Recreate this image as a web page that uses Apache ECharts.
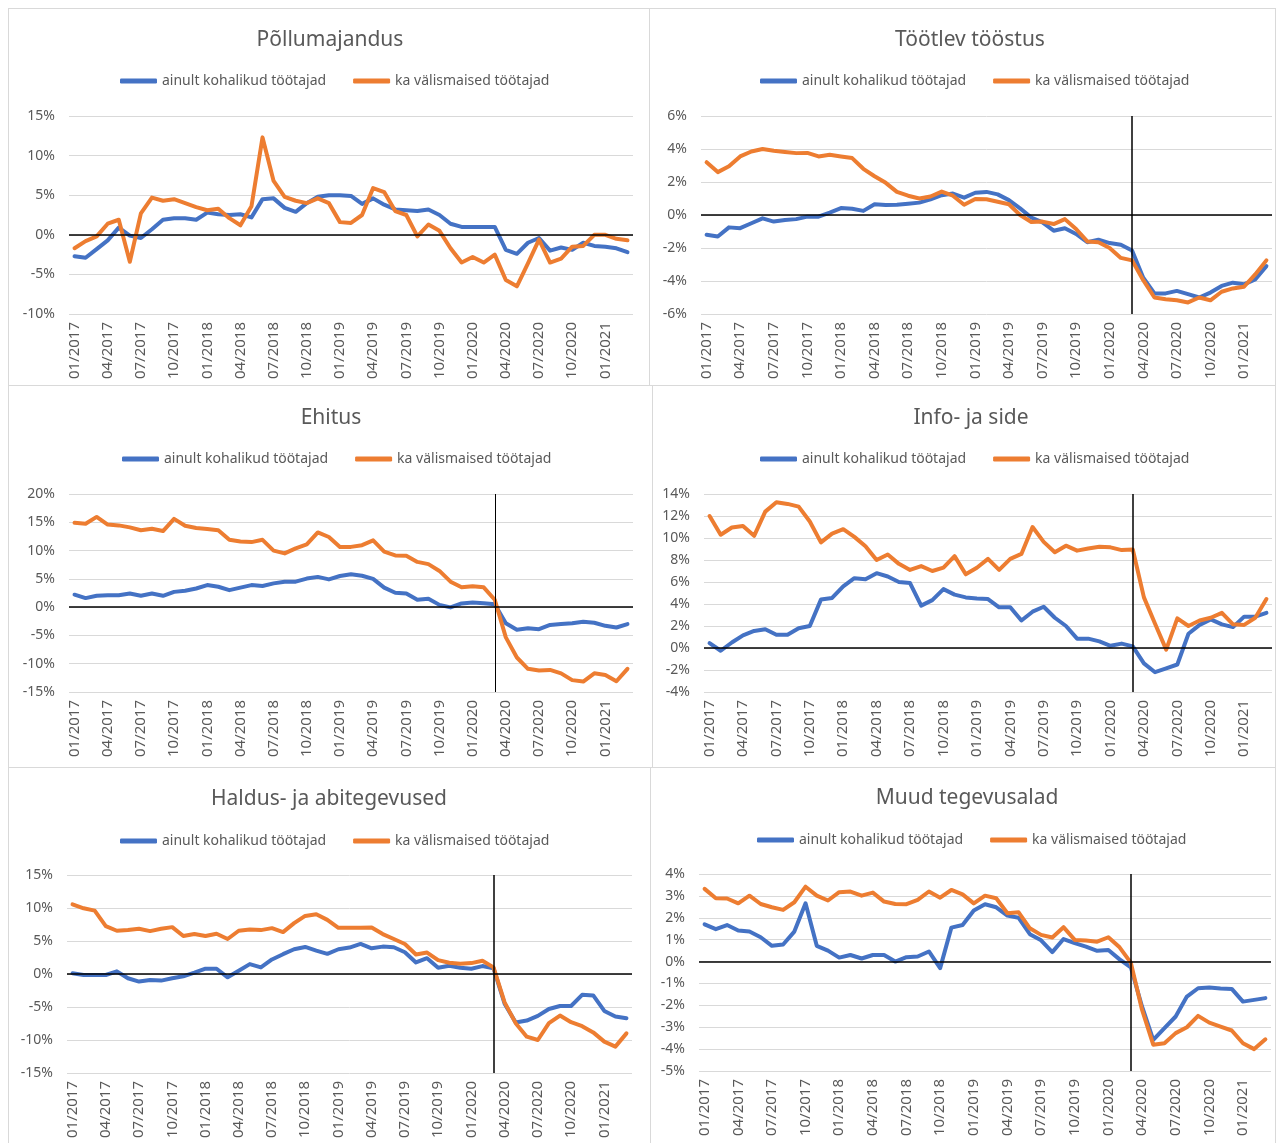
<!DOCTYPE html>
<html><head><meta charset="utf-8">
<script src="https://cdn.jsdelivr.net/npm/echarts@6/dist/echarts.min.js"></script>
<style>
html,body{margin:0;padding:0;background:#fff;width:1276px;height:1143px;overflow:hidden;position:relative;}
.p{position:absolute;box-sizing:border-box;border:1px solid #d9d9d9;background:#fff;}
.c{position:absolute;left:0;top:0;right:0;bottom:0;}
</style></head><body>
<div class="p" style="left:8px;top:8px;width:642px;height:378px"><div class="c" id="c1"></div></div>
<div class="p" style="left:649px;top:8px;width:627px;height:378px"><div class="c" id="c2"></div></div>
<div class="p" style="left:8px;top:385px;width:645px;height:383px"><div class="c" id="c3"></div></div>
<div class="p" style="left:652px;top:385px;width:624px;height:383px"><div class="c" id="c4"></div></div>
<div class="p" style="left:8px;top:767px;width:643px;height:378px"><div class="c" id="c5"></div></div>
<div class="p" style="left:650px;top:767px;width:626px;height:378px"><div class="c" id="c6"></div></div>
<script>
const months = ['01/2017','02/2017','03/2017','04/2017','05/2017','06/2017','07/2017','08/2017','09/2017','10/2017','11/2017','12/2017',
'01/2018','02/2018','03/2018','04/2018','05/2018','06/2018','07/2018','08/2018','09/2018','10/2018','11/2018','12/2018',
'01/2019','02/2019','03/2019','04/2019','05/2019','06/2019','07/2019','08/2019','09/2019','10/2019','11/2019','12/2019',
'01/2020','02/2020','03/2020','04/2020','05/2020','06/2020','07/2020','08/2020','09/2020','10/2020','11/2020','12/2020',
'01/2021','02/2021','03/2021'];
const seriesNames = ['ainult kohalikud töötajad','ka välismaised töötajad'];
const panelTitles = ['Põllumajandus','Töötlev tööstus','Ehitus','Info- ja side','Haldus- ja abitegevused','Muud tegevusalad'];
const markerMonth = '03/2020';

const polluKohalik = [-2.7,-2.9,-1.8,-0.7,0.9,-0.1,-0.4,0.7,1.9,2.1,2.1,1.9,2.8,2.6,2.5,2.6,2.2,4.5,4.6,3.4,2.9,4.0,4.8,5.0,5.0,4.9,3.9,4.6,3.8,3.2,3.1,3.0,3.2,2.5,1.4,1.0,1.0,1.0,1.0,-1.9,-2.4,-1.0,-0.4,-2.0,-1.6,-1.9,-1.0,-1.4,-1.5,-1.7,-2.2];
const polluValis = [-1.7,-0.8,-0.2,1.4,1.9,-3.4,2.7,4.7,4.3,4.5,4.0,3.5,3.1,3.3,2.1,1.2,3.6,12.3,6.8,4.8,4.3,4.0,4.6,4.0,1.6,1.5,2.5,5.9,5.4,3.0,2.5,-0.2,1.3,0.5,-1.7,-3.5,-2.8,-3.5,-2.5,-5.7,-6.5,-3.6,-0.6,-3.5,-3.0,-1.5,-1.4,0.0,0.0,-0.5,-0.7];
const tootlevKohalik = [-1.2,-1.3,-0.75,-0.8,-0.5,-0.2,-0.4,-0.3,-0.25,-0.1,-0.1,0.15,0.42,0.38,0.25,0.65,0.6,0.62,0.68,0.75,0.95,1.2,1.3,1.05,1.35,1.4,1.25,0.9,0.4,-0.15,-0.45,-0.95,-0.8,-1.15,-1.65,-1.5,-1.7,-1.8,-2.15,-3.8,-4.75,-4.75,-4.6,-4.8,-5.0,-4.7,-4.3,-4.1,-4.2,-3.9,-3.1];
const tootlevValis = [3.2,2.6,2.95,3.55,3.85,4.0,3.9,3.82,3.75,3.76,3.55,3.65,3.55,3.45,2.8,2.35,1.95,1.4,1.17,1.0,1.12,1.42,1.17,0.62,0.97,0.95,0.8,0.65,0.0,-0.42,-0.4,-0.55,-0.25,-0.85,-1.6,-1.65,-2.0,-2.6,-2.75,-3.95,-5.0,-5.1,-5.17,-5.3,-5.0,-5.17,-4.65,-4.45,-4.35,-3.6,-2.75];
const ehitusKohalik = [2.2,1.6,2.0,2.1,2.1,2.4,2.0,2.4,2.0,2.7,2.9,3.3,3.9,3.6,3.0,3.45,3.9,3.75,4.2,4.5,4.5,5.05,5.35,4.9,5.5,5.8,5.55,5.0,3.45,2.55,2.4,1.3,1.5,0.4,-0.05,0.65,0.8,0.7,0.5,-2.85,-4.0,-3.75,-3.9,-3.15,-3.0,-2.85,-2.6,-2.75,-3.3,-3.6,-3.0];
const ehitusValis = [14.9,14.75,15.95,14.6,14.45,14.1,13.6,13.85,13.45,15.6,14.4,14.0,13.8,13.6,11.9,11.6,11.5,11.9,10.0,9.5,10.4,11.1,13.2,12.4,10.65,10.65,10.95,11.8,9.8,9.15,9.1,8.0,7.6,6.4,4.5,3.5,3.7,3.5,1.3,-5.35,-8.9,-10.9,-11.2,-11.1,-11.7,-12.9,-13.15,-11.7,-12.0,-13.1,-10.9];
const infoKohalik = [0.45,-0.25,0.5,1.15,1.55,1.7,1.2,1.2,1.8,2.0,4.4,4.55,5.6,6.35,6.25,6.8,6.5,6.0,5.9,3.85,4.35,5.35,4.85,4.6,4.5,4.45,3.7,3.7,2.5,3.3,3.75,2.75,2.0,0.85,0.85,0.6,0.2,0.4,0.15,-1.4,-2.2,-1.85,-1.5,1.3,2.1,2.6,2.15,1.9,2.85,2.85,3.2];
const infoValis = [12.0,10.3,10.95,11.1,10.2,12.4,13.25,13.1,12.85,11.5,9.6,10.4,10.8,10.1,9.25,8.0,8.5,7.65,7.1,7.45,7.0,7.3,8.35,6.7,7.3,8.1,7.1,8.1,8.55,11.0,9.65,8.7,9.3,8.85,9.05,9.2,9.15,8.9,8.95,4.6,2.2,-0.15,2.7,2.0,2.5,2.75,3.2,2.15,2.1,2.75,4.45];
const haldusKohalik = [0.1,-0.15,-0.15,-0.15,0.4,-0.65,-1.15,-0.9,-1.0,-0.65,-0.35,0.2,0.8,0.8,-0.5,0.5,1.5,1.0,2.2,3.0,3.75,4.1,3.55,3.05,3.75,4.0,4.55,3.9,4.15,4.05,3.3,1.75,2.4,0.95,1.25,0.95,0.8,1.2,0.85,-4.5,-7.35,-7.05,-6.35,-5.3,-4.85,-4.85,-3.15,-3.25,-5.6,-6.45,-6.7];
const haldusValis = [10.55,9.95,9.6,7.25,6.55,6.65,6.85,6.5,6.85,7.1,5.75,6.05,5.75,6.1,5.3,6.55,6.75,6.65,6.95,6.35,7.7,8.8,9.05,8.2,7.0,7.0,7.0,7.05,6.05,5.3,4.55,2.95,3.25,2.1,1.7,1.55,1.65,2.0,1.0,-4.3,-7.45,-9.5,-10.0,-7.45,-6.3,-7.3,-7.9,-8.85,-10.25,-11.0,-9.0];
const muudKohalik = [1.7,1.48,1.67,1.42,1.37,1.11,0.72,0.78,1.37,2.66,0.72,0.5,0.18,0.3,0.14,0.3,0.3,0.0,0.2,0.23,0.46,-0.3,1.55,1.67,2.33,2.62,2.48,2.1,2.0,1.25,0.97,0.43,1.03,0.84,0.68,0.49,0.53,0.1,-0.26,-2.05,-3.58,-3.04,-2.51,-1.6,-1.22,-1.19,-1.23,-1.25,-1.83,-1.75,-1.67];
const muudValis = [3.32,2.89,2.88,2.66,3.01,2.63,2.48,2.36,2.71,3.42,3.01,2.79,3.17,3.2,3.01,3.15,2.74,2.63,2.62,2.82,3.2,2.92,3.27,3.07,2.66,3.01,2.89,2.21,2.25,1.52,1.22,1.1,1.57,0.99,0.96,0.91,1.11,0.65,-0.05,-2.2,-3.8,-3.73,-3.27,-3.0,-2.48,-2.79,-2.97,-3.15,-3.73,-4.0,-3.55];

const yMins = [-10,-6,-15,-4,-15,-5];
const yMaxs = [15,6,20,14,15,4];
const yIntervals = [5,2,5,2,5,1];

const FONT = 'Noto Sans';
const GRAY = '#595959';
const BLUE = '#4472C4';
const ORANGE = '#ED7D31';

// layout (pixels inside each panel)
const layouts = [
  {grid:{left:60,right:16,top:107,bottom:71}, tx:321, ty:31, lx:111, ly:74, vline:false, vw:1.5},
  {grid:{left:51,right:3,top:107,bottom:71},  tx:320, ty:31, lx:110, ly:74, vline:true, vw:1.5},
  {grid:{left:60,right:19,top:108,bottom:75}, tx:322, ty:32, lx:113, ly:75, vline:true, vw:1},
  {grid:{left:51,right:3,top:108,bottom:75},  tx:318, ty:32, lx:107, ly:75, vline:true, vw:1.5},
  {grid:{left:58,right:18,top:107,bottom:71}, tx:320, ty:31, lx:111, ly:75, vline:true, vw:1.5},
  {grid:{left:48,right:4,top:106,bottom:73},  tx:316, ty:30, lx:106, ly:74, vline:true, vw:1.5}
];
const dataSets = [
  [polluKohalik, polluValis],
  [tootlevKohalik, tootlevValis],
  [ehitusKohalik, ehitusValis],
  [infoKohalik, infoValis],
  [haldusKohalik, haldusValis],
  [muudKohalik, muudValis]
];

function makeOption(i) {
  const L = layouts[i];
  const mlData = [{yAxis: 0, lineStyle:{color:'#000', width:1.5, type:'solid'}}];
  if (L.vline) mlData.push({xAxis: markerMonth, lineStyle:{color:'#000', width:L.vw, type:'solid'}});
  return {
    animation: false,
    textStyle: {fontFamily: FONT},
    graphic: [{
      type: 'text', x: L.tx, y: L.ty, silent: true,
      style: {text: panelTitles[i], fontSize: 21, fontFamily: FONT, fill: GRAY,
              align: 'center', verticalAlign: 'middle', textAlign: 'center', textVerticalAlign: 'middle'}
    }],
    legend: {
      data: seriesNames, left: L.lx, top: L.ly - 9, padding: 0,
      icon: 'roundRect', itemWidth: 37, itemHeight: 5, itemGap: 27,
      textStyle: {fontSize: 14, color: GRAY, fontFamily: FONT}
    },
    grid: L.grid,
    xAxis: {
      type: 'category', data: months, boundaryGap: true,
      axisLine: {show: false}, axisTick: {show: false},
      axisLabel: {interval: 2, rotate: 90, margin: 8, fontSize: 15, color: GRAY, fontFamily: FONT},
      splitLine: {show: false}
    },
    yAxis: {
      type: 'value', min: yMins[i], max: yMaxs[i], interval: yIntervals[i],
      axisLine: {show: false}, axisTick: {show: false},
      axisLabel: {formatter: '{value}%', fontSize: 14, color: GRAY, margin: 14, fontFamily: FONT},
      splitLine: {lineStyle: {color: '#d9d9d9', width: 1}}
    },
    series: [
      {name: seriesNames[0], type: 'line', data: dataSets[i][0], symbol: 'none', showSymbol: false,
       itemStyle: {color: BLUE}, lineStyle: {color: BLUE, width: 4, cap: 'round', join: 'round'},
       markLine: {silent: true, symbol: ['none','none'], label: {show: false}, data: mlData}},
      {name: seriesNames[1], type: 'line', data: dataSets[i][1], symbol: 'none', showSymbol: false,
       itemStyle: {color: ORANGE}, lineStyle: {color: ORANGE, width: 4, cap: 'round', join: 'round'}}
    ]
  };
}
for (let i = 0; i < 6; i++) {
  const chart = echarts.init(document.getElementById('c' + (i + 1)), null, {renderer: 'canvas'});
  chart.setOption(makeOption(i));
}
</script>
</body></html>
